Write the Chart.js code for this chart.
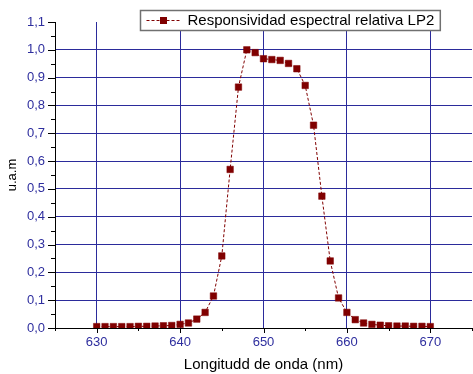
<!DOCTYPE html>
<html><head><meta charset="utf-8">
<script src="https://cdn.jsdelivr.net/npm/chart.js@4/dist/chart.umd.min.js"></script>
<style>html,body{margin:0;padding:0;background:#fff;overflow:hidden}</style>
</head><body>
<canvas id="c" width="473" height="374"></canvas>
<script>
const wavelengths = [630,631,632,633,634,635,636,637,638,639,640,641,642,643,644,645,646,647,648,649,650,651,652,653,654,655,656,657,658,659,660,661,662,663,664,665,666,667,668,669,670];
const responsivity = [0.005,0.005,0.005,0.005,0.005,0.006,0.006,0.007,0.008,0.009,0.013,0.018,0.032,0.056,0.115,0.259,0.570,0.866,1.000,0.990,0.968,0.965,0.962,0.951,0.932,0.872,0.729,0.474,0.241,0.108,0.056,0.030,0.018,0.013,0.010,0.008,0.007,0.007,0.006,0.006,0.005];
const seriesLabel = 'Responsividad espectral relativa LP2';
const xTitle = 'Longitudd de onda (nm)';
const yTitle = 'u.a.m';

const FONT = "'Liberation Sans', Arial, sans-serif";
const RED = '#800000';
const GRID = '#2b2b9b';
const TICKTXT = '#2e2e9e';

const isMult = (v, step) => Math.abs(v / step - Math.round(v / step)) < 1e-6;

const tickMarks = {
  id: 'tickMarks',
  afterDraw(chart) {
    const {ctx, chartArea: a, scales: {x, y}} = chart;
    ctx.save();
    ctx.strokeStyle = '#000';
    ctx.lineWidth = 1;
    ctx.beginPath();
    x.ticks.forEach(t => {
      const px = Math.round(x.getPixelForValue(t.value)) + 0.5;
      const len = isMult(t.value, 10) ? 5 : 3;
      ctx.moveTo(px, a.bottom); ctx.lineTo(px, a.bottom + len);
    });
    y.ticks.forEach(t => {
      const py = Math.round(y.getPixelForValue(t.value)) + 0.5;
      const len = isMult(t.value, 0.1) ? 7 : 4;
      ctx.moveTo(a.left, py); ctx.lineTo(a.left - len, py);
    });
    ctx.stroke();
    ctx.restore();
  }
};

const boxLegend = {
  id: 'boxLegend',
  afterDraw(chart) {
    const {ctx} = chart;
    const ds = chart.data.datasets[0];
    ctx.save();
    ctx.font = '15px ' + FONT;
    const tw = ctx.measureText(ds.label).width;
    const bx = 140.5, by = 10.5, bh = 20;
    const bw = 47 + tw + 6;
    ctx.fillStyle = '#fff';
    ctx.fillRect(bx, by, bw, bh);
    ctx.strokeStyle = '#707070';
    ctx.lineWidth = 1.5;
    ctx.strokeRect(bx, by, bw, bh);
    const cy = by + bh / 2;
    ctx.strokeStyle = RED;
    ctx.lineWidth = 1;
    ctx.setLineDash([3, 2]);
    ctx.beginPath();
    ctx.moveTo(bx + 6, cy); ctx.lineTo(bx + 40, cy);
    ctx.stroke();
    ctx.setLineDash([]);
    ctx.fillStyle = RED;
    ctx.fillRect(bx + 23 - 3.5, cy - 3.5, 7, 7);
    ctx.fillStyle = '#000';
    ctx.textBaseline = 'middle';
    ctx.textAlign = 'left';
    ctx.fillText(ds.label, bx + 47, cy + 0.5);
    ctx.restore();
  }
};

new Chart(document.getElementById('c'), {
  type: 'line',
  data: {
    datasets: [{
      label: seriesLabel,
      data: wavelengths.map((w, i) => ({x: w, y: responsivity[i]})),
      borderColor: RED,
      borderWidth: 1,
      borderDash: [3, 2],
      backgroundColor: RED,
      pointStyle: 'rect',
      pointRadius: 4.6,
      pointBackgroundColor: RED,
      pointBorderColor: RED,
      pointBorderWidth: 0.5,
      tension: 0,
      fill: false
    }]
  },
  options: {
    responsive: false,
    animation: false,
    devicePixelRatio: 1,
    layout: {autoPadding: false, padding: {top: 22, right: 1, left: 0, bottom: 0}},
    plugins: {legend: {display: false}, tooltip: {enabled: false}},
    scales: {
      x: {
        type: 'linear', min: 625, max: 675,
        afterFit: s => { s.height = 46; s.paddingRight = 0; s.paddingLeft = 0; },
        border: {display: true, color: '#000', width: 1},
        grid: {
          drawTicks: false,
          lineWidth: 1,
          color: c => (c.tick && isMult(c.tick.value, 10)) ? GRID : 'rgba(0,0,0,0)'
        },
        ticks: {
          stepSize: 5, autoSkip: false, maxRotation: 0, padding: 7,
          color: TICKTXT, font: {family: FONT, size: 13},
          callback: v => isMult(v, 10) ? String(Math.round(v)) : ''
        },
        title: {display: true, text: xTitle, color: '#000', font: {family: FONT, size: 15}, padding: {top: 0, bottom: 0}}
      },
      y: {
        type: 'linear', min: 0, max: 1.1,
        afterFit: s => { s.width = 55; },
        border: {display: true, color: '#000', width: 1},
        grid: {
          drawTicks: false,
          lineWidth: 1,
          color: c => {
            if (!c.tick) return 'rgba(0,0,0,0)';
            const v = c.tick.value;
            return (isMult(v, 0.1) && v > 0.05 && v < 1.05) ? GRID : 'rgba(0,0,0,0)';
          }
        },
        ticks: {
          stepSize: 0.05, autoSkip: false, padding: 10,
          color: TICKTXT, font: {family: FONT, size: 13},
          callback: v => isMult(v, 0.1) ? (Math.round(v * 10) / 10).toFixed(1).replace('.', ',') : ''
        },
        title: {display: true, text: yTitle, color: '#000', font: {family: FONT, size: 13}, padding: {top: 4.7, bottom: 0}}
      }
    }
  },
  plugins: [tickMarks, boxLegend]
});
</script>
</body></html>
